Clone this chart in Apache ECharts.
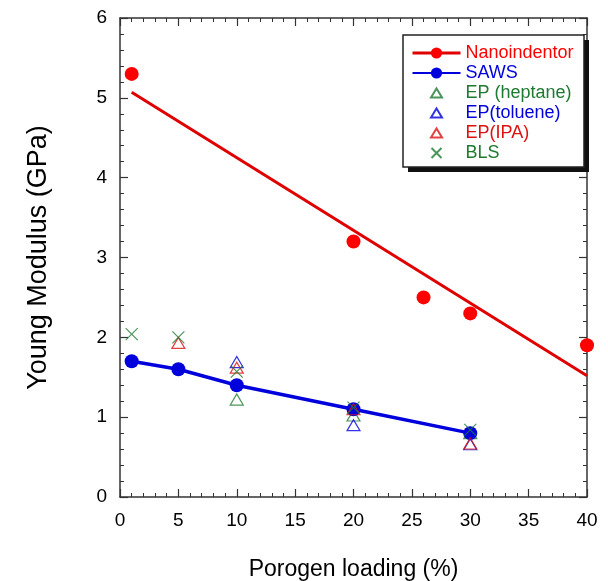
<!DOCTYPE html>
<html>
<head>
<meta charset="utf-8">
<script src="https://cdn.jsdelivr.net/npm/echarts@6/dist/echarts.min.js"></script>
<style>
  html, body { margin: 0; padding: 0; background: #fff; }
  #chart { width: 608px; height: 581px; }
</style>
</head>
<body>
<div id="chart"></div>
<script>
// measured points, [loading %, modulus GPa]
const nanoPoints = [[1, 5.3], [20, 3.2], [26, 2.5], [30, 2.3], [40, 1.9]]
const nanoFit = [[1, 5.07], [40, 1.52]]
const sawsPoints = [[1, 1.7], [5, 1.6], [10, 1.4], [20, 1.1], [30, 0.8]]
const epHeptane = [[10, 1.22], [20, 1.02], [30, 0.8]]
const epToluene = [[10, 1.69], [20, 0.9], [30, 0.66]]
const epIpa = [[5, 1.93], [10, 1.62], [20, 1.1], [30, 0.67]]
const bls = [[1, 2.04], [5, 2.0], [10, 1.57], [20, 1.12], [30, 0.84]]

const RED = '#ff0000'
const RED_LINE = '#e00000'
const IPA_RED = '#dd1111'
const BLUE = '#0000dd'
const GREEN = '#1d7a30'
const FONT = 'Liberation Sans, Arial, sans-serif'
const TRI = 'path://M5,0L10,9L0,9Z'
const CROSS = 'path://M0,0L10,10M10,0L0,10'
// legend icons padded so they keep a small size inside the 14px legend slot
const TRI_ICON = 'path://M0,0M14,14M1.5,11.5L7,2.5L12.5,11.5Z'
const CROSS_ICON = 'path://M0,0M14,14M2,2L12,12M12,2L2,12'

let myChart = echarts.init(document.getElementById('chart'))

const axisCommon = {
  axisLine: { show: true, onZero: false, lineStyle: { color: '#333', width: 1.5 } },
  axisTick: { show: true, inside: true, length: 8, lineStyle: { color: '#333', width: 1.2 } },
  minorTick: { show: true, splitNumber: 5, length: 4, lineStyle: { color: '#333', width: 1 } },
  splitLine: { show: false }
}

myChart.setOption({
  animation: false,
  backgroundColor: '#fff',
  grid: { left: 120, right: 21, top: 18, bottom: 84, outerBoundsMode: 'none' },
  graphic: [
    { type: 'rect', z: 5, shape: { x: 408, y: 40, width: 181, height: 132 }, style: { fill: '#111' } },
    { type: 'rect', z: 5, shape: { x: 403, y: 35, width: 181, height: 132 }, style: { fill: '#fff', stroke: '#222', lineWidth: 1.5 } }
  ],
  legend: {
    orient: 'vertical',
    left: 411,
    top: 44,
    z: 10,
    padding: 0,
    itemGap: 2,
    itemWidth: 48,
    itemHeight: 14,
    textStyle: { fontFamily: FONT, fontSize: 18, lineHeight: 18 },
    data: [
      { name: 'Nanoindentor', textStyle: { color: RED }, lineStyle: { width: 3, opacity: 1, color: RED_LINE } },
      { name: 'SAWS', textStyle: { color: BLUE } },
      { name: 'EP (heptane)', icon: TRI_ICON, textStyle: { color: GREEN } },
      { name: 'EP(toluene)', icon: TRI_ICON, textStyle: { color: BLUE } },
      { name: 'EP(IPA)', icon: TRI_ICON, textStyle: { color: IPA_RED } },
      { name: 'BLS', icon: CROSS_ICON, textStyle: { color: GREEN } }
    ]
  },
  xAxis: [
    Object.assign({
      type: 'value', min: 0, max: 40, interval: 5,
      name: 'Porogen loading (%)',
      nameLocation: 'middle',
      nameGap: 61,
      nameTextStyle: { fontFamily: FONT, fontSize: 23, color: '#000' },
      axisLabel: { fontFamily: FONT, fontSize: 19, color: '#000', margin: 14 }
    }, axisCommon),
    Object.assign({
      type: 'value', min: 0, max: 40, interval: 5, position: 'top',
      axisLabel: { show: false }
    }, axisCommon)
  ],
  yAxis: [
    Object.assign({
      type: 'value', min: 0, max: 6, interval: 1,
      name: 'Young Modulus (GPa)',
      nameLocation: 'middle',
      nameGap: 68,
      nameTextStyle: { fontFamily: FONT, fontSize: 27, color: '#000' },
      axisLabel: { fontFamily: FONT, fontSize: 19, color: '#000', margin: 13 }
    }, axisCommon),
    Object.assign({
      type: 'value', min: 0, max: 6, interval: 1, position: 'right',
      axisLabel: { show: false }
    }, axisCommon)
  ],
  series: [
    {
      name: 'Nanoindentor',
      type: 'line',
      data: nanoPoints,
      symbol: 'circle',
      symbolSize: 14,
      itemStyle: { color: RED },
      lineStyle: { width: 0, opacity: 0, color: RED_LINE },
      z: 4
    },
    {
      type: 'line',
      data: nanoFit,
      symbol: 'none',
      lineStyle: { width: 3, color: RED_LINE },
      z: 3
    },
    {
      name: 'SAWS',
      type: 'line',
      data: sawsPoints,
      symbol: 'circle',
      symbolSize: 14,
      itemStyle: { color: BLUE },
      lineStyle: { width: 3.5, color: BLUE },
      z: 3
    },
    {
      name: 'EP (heptane)',
      type: 'scatter',
      data: epHeptane,
      symbol: TRI,
      symbolSize: [13, 11],
      symbolKeepAspect: false,
      itemStyle: { color: 'rgba(0,0,0,0)', borderColor: GREEN, borderWidth: 1.2 },
      z: 2
    },
    {
      name: 'EP(toluene)',
      type: 'scatter',
      data: epToluene,
      symbol: TRI,
      symbolSize: [13, 11],
      symbolKeepAspect: false,
      itemStyle: { color: 'rgba(0,0,0,0)', borderColor: BLUE, borderWidth: 1.2 },
      z: 5
    },
    {
      name: 'EP(IPA)',
      type: 'scatter',
      data: epIpa,
      symbol: TRI,
      symbolSize: [13, 11],
      symbolKeepAspect: false,
      itemStyle: { color: 'rgba(0,0,0,0)', borderColor: IPA_RED, borderWidth: 1.2 },
      z: 6
    },
    {
      name: 'BLS',
      type: 'scatter',
      data: bls,
      symbol: CROSS,
      symbolSize: 12,
      itemStyle: { color: 'rgba(0,0,0,0)', borderColor: GREEN, borderWidth: 1.2 },
      z: 7
    }
  ]
})
</script>
</body>
</html>
